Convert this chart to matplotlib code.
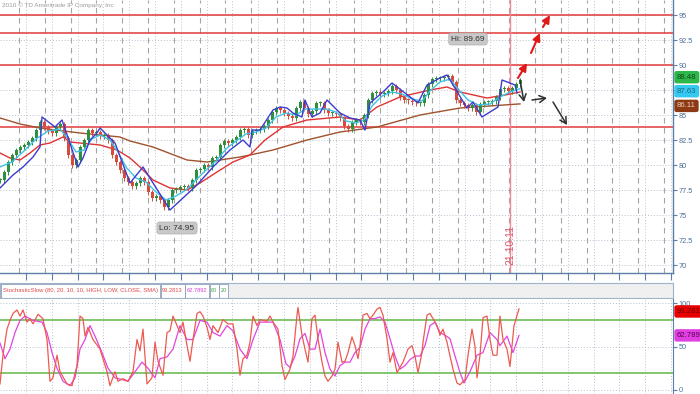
import numpy as np
import matplotlib
matplotlib.use("Agg")
import matplotlib.pyplot as plt

plt.rcParams["font.family"] = ["Liberation Sans", "DejaVu Sans"]

# ---------------- data (time axis in trading days) ----------------
closes = [78.5, 79.3, 80.3, 81.0, 81.5, 81.8, 82.0, 82.3, 82.7, 83.5,
          84.3, 83.8, 83.4, 83.2, 83.8, 84.1, 82.7, 81.0, 80.0, 80.5,
          81.8, 82.5, 83.5, 83.2, 83.3, 82.9, 83.0, 82.5, 81.0, 80.3,
          79.5, 78.7, 78.3, 77.9, 78.2, 78.7, 78.3, 77.3, 76.7, 76.9,
          76.5, 75.8, 76.5, 77.5, 77.6, 77.8, 77.9, 77.7, 78.5, 79.5,
          79.6, 80.0, 79.8, 80.7, 80.8, 82.0, 82.4, 82.2, 82.5, 82.8,
          83.5, 83.6, 83.0, 83.4, 83.5, 83.6, 83.9, 84.5, 85.3, 85.7,
          85.5, 85.2, 84.9, 84.7, 85.7, 86.3, 85.7, 85.1, 85.4, 86.2,
          86.2, 85.5, 85.2, 85.2, 85.1, 84.7, 83.9, 83.6, 84.3, 84.5,
          84.3, 85.0, 86.5, 87.2, 87.3, 87.1, 87.2, 87.4, 87.9, 87.5,
          86.8, 86.5, 86.4, 86.3, 86.2, 86.2, 87.0, 88.1, 88.6, 88.7,
          88.7, 88.8, 88.9, 88.3, 86.5, 86.2, 86.0, 85.7, 86.0, 85.3,
          86.1, 86.3, 86.3, 86.4, 86.8, 87.6, 87.7, 87.4, 87.7, 88.1,
          88.48]
close_step = 2  # closes were read every second trading day

cyan_t = [0, 6, 12, 18, 24, 30, 34, 38, 42, 46, 50, 55, 59, 63, 68, 73, 78, 83,
          88, 93, 98, 103, 108, 113, 118, 123, 128, 133, 138, 143, 148, 153, 158,
          163, 168, 173, 178, 182, 186, 191, 196, 201, 206, 211, 215, 220, 225,
          229, 234, 239, 245, 250, 255, 260]
cyan_v = [79.8, 80.3, 81.4, 82.6, 83.4, 83.6, 82.6, 81.3, 81.5, 82.6, 83.0, 82.5,
          81.3, 79.8, 78.7, 78.3, 77.3, 76.5, 76.9, 77.5, 78.5, 79.5, 80.4, 81.6,
          82.4, 83.1, 83.3, 83.7, 84.8, 85.2, 85.0, 85.6, 85.6, 85.6, 85.3, 84.4,
          84.2, 84.5, 85.9, 86.9, 87.3, 87.1, 86.6, 86.4, 87.4, 88.3, 88.6, 87.6,
          86.5, 86.0, 86.1, 86.8, 87.3, 87.63]

blue_t = [0, 6.5, 11.5, 16.5, 20, 21, 27.5, 31, 39, 41.5, 45, 48.5, 50, 57.5, 65,
          71.5, 85, 98.5, 106.5, 115, 121.5, 125, 126, 130, 136.5, 140, 143.5,
          146.5, 151, 152.5, 156, 160, 163.5, 170, 175, 180, 182.5, 185, 191.5,
          196, 209, 213.5, 220, 223.5, 233.5, 236.5, 241, 249, 251, 257.5, 258.5]
blue_v = [77.7, 79.0, 79.8, 80.8, 81.8, 84.8, 83.8, 84.5, 79.8, 80.7, 82.5, 83.2,
          83.7, 82.2, 78.2, 79.8, 75.5, 78.0, 79.8, 81.5, 82.5, 81.8, 83.5, 83.5,
          85.5, 85.8, 85.7, 85.2, 84.8, 86.5, 84.8, 85.2, 86.5, 85.2, 84.7, 84.5,
          83.5, 86.2, 87.3, 88.2, 86.2, 88.0, 88.7, 89.0, 85.7, 86.3, 84.8, 85.8,
          88.5, 88.0, 87.2]

sma_t = [0, 5, 10, 15, 20, 25, 31.5, 35, 40, 50, 58.5, 65, 70, 76.5, 85, 93.5,
         100, 108.5, 116.5, 125, 132.5, 141.5, 153.5, 170, 180, 188.5, 200, 215,
         223.5, 230, 243.5, 252.5, 260]
sma_v = [81.2, 80.7, 80.5, 81.2, 82.0, 82.2, 82.8, 82.3, 82.2, 82.0, 81.5, 80.7,
         79.8, 78.5, 77.7, 77.5, 78.2, 79.3, 80.3, 81.0, 82.5, 83.8, 84.5, 84.8,
         84.5, 85.8, 86.8, 87.5, 87.8, 87.3, 86.7, 87.0, 87.3]

long_t = [0, 10, 20, 40, 60, 65, 76.5, 93.5, 103.5, 110, 120, 125, 136.5, 153.5,
          170, 188.5, 210, 230, 260]
long_v = [84.7, 84.1, 83.7, 83.2, 82.8, 82.4, 81.8, 80.5, 80.3, 80.5, 80.8, 81.0,
          81.5, 82.5, 83.3, 83.8, 85.0, 85.7, 86.11]

level_lines = [95.0, 93.2, 90.0, 83.8]
price_ticks = [70, 72.5, 75, 77.5, 80, 82.5, 85, 87.5, 90, 92.5, 95]

stoch_k = [(0, 7), (1.5, 40), (3.5, 70), (5, 80), (6.5, 88), (8.5, 92), (10, 85),
           (11.5, 92), (13.5, 78), (15, 82), (16.5, 76), (19, 87), (21.5, 82),
           (23.5, 58), (25, 10), (26.5, 14), (28.5, 40), (30, 21), (33.5, 7),
           (36, 5), (38.5, 28), (40, 85), (41.5, 82), (42.5, 62), (44, 72),
           (46.5, 58), (50, 47), (51.5, 36), (53.5, 21), (55, 5), (57.5, 21),
           (59, 10), (61.5, 13), (64, 10), (66.5, 21), (68.5, 58), (70, 45),
           (71.5, 70), (73.5, 7), (76, 14), (77.5, 55), (79, 33), (81.5, 17),
           (83.5, 66), (85, 68), (86.5, 85), (88.5, 74), (90, 66), (91.5, 78),
           (93.5, 51), (95, 33), (96.5, 58), (98.5, 88), (100, 90), (101.5, 85),
           (103.5, 72), (105, 58), (106.5, 74), (109, 66), (111.5, 81), (114, 76),
           (116.5, 76), (118.5, 47), (120, 17), (121.5, 36), (123.5, 40),
           (125, 55), (126.5, 85), (128.5, 74), (130, 81), (133.5, 79), (135, 85),
           (136.5, 78), (139, 70), (141, 28), (142.5, 12), (145, 24), (146.5, 39),
           (148.5, 86), (149, 95), (151, 63), (152.5, 47), (154, 32), (156, 82),
           (157.5, 86), (159, 59), (161, 32), (162.5, 16), (164, 10), (166, 16),
           (167.5, 24), (169, 55), (171, 32), (172.5, 33), (174, 43), (176, 61),
           (177.5, 51), (179, 36), (180, 51), (181.5, 86), (183.5, 88), (185, 82),
           (186.5, 86), (188.5, 93), (190, 95), (191.5, 86), (193.5, 59),
           (195, 32), (196.5, 43), (198.5, 20), (200, 26), (201.5, 32), (204, 47),
           (206, 51), (207.5, 39), (209, 20), (211, 43), (211.5, 55), (213.5, 86),
           (215, 88), (216.5, 82), (218.5, 74), (220, 63), (221.5, 70),
           (223.5, 55), (225, 39), (226.5, 24), (228.5, 8), (230, 6), (232.5, 12),
           (234, 40), (236, 70), (237.5, 50), (238.5, 14), (240, 40), (241.5, 83),
           (243.5, 85), (245, 58), (246.5, 40), (248.5, 40), (250, 85),
           (251.5, 58), (253.5, 47), (255, 27), (257, 74), (259.5, 93.28)]

stoch_d = [(0, 54), (2.5, 36), (5, 47), (7.5, 66), (10, 80), (12.5, 85),
           (16.5, 80), (21, 78), (23.5, 66), (26, 43), (28.5, 25), (31.5, 10),
           (35, 5), (37.5, 14), (40, 47), (42.5, 58), (45, 74), (47.5, 62),
           (51, 43), (54, 25), (57.5, 14), (61, 12), (64, 10), (67.5, 21),
           (71, 32), (74, 25), (77.5, 14), (80, 36), (83.5, 38), (86.5, 47),
           (90, 74), (93.5, 58), (96.5, 58), (100, 80), (103.5, 78), (106.5, 66),
           (110, 62), (113.5, 74), (116.5, 68), (120, 47), (123.5, 36),
           (126.5, 58), (130, 78), (136.5, 78), (140, 58), (143, 30), (145, 26),
           (147.5, 39), (150, 59), (152.5, 65), (155, 47), (157.5, 47), (160, 70),
           (162.5, 43), (165, 24), (167.5, 16), (170, 28), (172.5, 32), (175, 32),
           (177.5, 43), (180, 49), (182.5, 70), (185, 82), (187.5, 82), (190, 84),
           (192.5, 78), (195, 59), (197.5, 39), (200, 24), (202.5, 28), (205, 35),
           (207.5, 39), (210, 39), (212.5, 51), (215, 74), (217.5, 78), (220, 66),
           (222.5, 63), (225, 59), (227.5, 39), (230, 20), (232, 8), (235, 21),
           (238.5, 40), (241.5, 43), (245, 66), (248.5, 58), (250, 51),
           (253.5, 62), (256.5, 43), (259.5, 62.79)]

stoch_levels = [80, 20]
stoch_ticks = [0, 50, 100]

red_arrows = [((259, 88.7), (263.5, 90.2)), ((265.5, 91.2), (270, 93.2)),
              ((271.5, 93.8), (275, 95.0))]
black_arrows = [((260, 88.5), (262, 86.3)), ((266, 86.5), (273.5, 86.7)),
                ((276.5, 86.3), (283.5, 84.0))]
event_t = 255
event_label = "21.10.11"
hi_t, hi_v = 224, 89.69
lo_t, lo_v = 82, 74.95

# ---------------- style ----------------
W, H = 700, 394
AXC = "#5b7fa6"
LBC = "#4a6d96"
C_UP, C_DN = "#2f8f3f", "#d94a3a"
C_CYAN, C_BLUE, C_SMA, C_LONG = "#3fc3e6", "#3b3bd0", "#e03333", "#a0522d"
C_LVL = "#e23a3a"
C_K, C_D = "#ec5a50", "#e244e0"
C_GRN = "#6cbf55"

fig = plt.figure(figsize=(W / 100, H / 100), dpi=100)
XMAX = 336.5
grid_a = np.arange(9.5, XMAX, 12.9)
grid_b = np.arange(13.0, XMAX, 12.9)


def fx(px):
    return px / W


def fy(py):
    return 1 - py / H


ax = fig.add_axes([0, fy(273), fx(673), 273 / H])
ax.set_xlim(0, XMAX)
ax.set_ylim(69.2, 96.5)

for g in price_ticks:
    ax.axhline(g, color="#b4c0ce", lw=0.7, ls=(0, (1, 2)), zorder=0)
for g in grid_a:
    ax.axvline(g, color="#a4a4a4", lw=0.8, ls=(0, (5, 4)), zorder=0)
for g in grid_b:
    ax.axvline(g, color="#bcc6d2", lw=0.7, ls=(0, (1, 2)), zorder=0)

for lv in level_lines:
    ax.axhline(lv, color=C_LVL, lw=1.1, zorder=1)

ax.axvline(event_t, color="#ee8a95", lw=1.0, zorder=1)
ax.text(event_t, 72.0, event_label, rotation=90, color="#e05a70", fontsize=7.5,
        ha="center", va="center", zorder=2)

ax.plot(long_t, long_v, color=C_LONG, lw=1.0, zorder=3)
ax.plot(sma_t, sma_v, color=C_SMA, lw=1.0, zorder=3)

c = np.array(closes)
t = np.arange(len(c)) * close_step
o = np.concatenate([[c[0]], c[:-1]])
up = c >= o
col = np.where(up, C_UP, C_DN)
body = np.where(np.abs(c - o) < 0.1, 0.1, c - o)
ax.bar(t, body, bottom=o, width=1.5, color=col, edgecolor="none", zorder=4)
ax.vlines(t, np.minimum(o, c) - 0.25, np.maximum(o, c) + 0.25, colors=col,
          lw=0.7, zorder=4)

ax.plot(cyan_t, cyan_v, color=C_CYAN, lw=1.0, zorder=5)
ax.plot(blue_t, blue_v, color=C_BLUE, lw=1.0, zorder=5)

for (a, b) in red_arrows:
    ax.annotate("", xy=b, xytext=a,
                arrowprops=dict(arrowstyle="-|>,head_length=0.45,head_width=0.22",
                                color="#e01818", lw=1.5, shrinkA=0, shrinkB=0),
                zorder=6)
for (a, b) in black_arrows:
    ax.annotate("", xy=b, xytext=a,
                arrowprops=dict(arrowstyle="->,head_length=0.45,head_width=0.25",
                                color="#303030", lw=1.1, shrinkA=0, shrinkB=0),
                zorder=6)

box = dict(boxstyle="round,pad=0.3", fc="#c8c8c8", ec="#b0b0b0", lw=0.5)
ax.text(hi_t + 10, 92.6, f"Hi: {hi_v:.2f}", fontsize=6, color="#333333",
        ha="center", va="center", bbox=box, zorder=7)
ax.text(lo_t + 6.5, 73.7, f"Lo: {lo_v:.2f}", fontsize=6, color="#333333",
        ha="center", va="center", bbox=box, zorder=7)

ax.text(0.8, 95.95, "2010 \u00a9 TD Ameritrade IP Company, Inc", fontsize=4.6,
        color="#9a9a9a", ha="left", va="center")

for s in ["left", "top"]:
    ax.spines[s].set_visible(False)
for s in ["right", "bottom"]:
    ax.spines[s].set_color(AXC)
    ax.spines[s].set_linewidth(1.0)
ax.yaxis.tick_right()
ax.set_yticks(price_ticks)
ax.set_yticklabels([f"{v:g}" for v in price_ticks])
ax.tick_params(axis="y", colors=AXC, labelsize=5.3, length=3, pad=1,
               labelcolor=LBC)
ax.set_xticks(grid_b)
ax.set_xticklabels([])
ax.tick_params(axis="x", colors=AXC, length=5, direction="out")


def tag(axis, y, txt, fc, tc):
    axis.text(1.006, y, txt, transform=axis.get_yaxis_transform(), fontsize=5.6,
              color=tc, ha="left", va="center", zorder=10, clip_on=False,
              bbox=dict(boxstyle="round,pad=0.35,rounding_size=0.3", fc=fc,
                        ec="none"))


tag(ax, cyan_v[-1] - 0.25, f"{cyan_v[-1]:.2f}", "#35c8f0", "#1a6a80")
tag(ax, closes[-1] + 0.3, f"{closes[-1]:.2f}", "#2fb84a", "#0e4a18")
tag(ax, long_v[-1] - 0.2, f"{long_v[-1]:.2f}", "#8b3a14", "#f0d0c0")

# ---------------- header bar ----------------
hb = fig.add_axes([0, fy(298), fx(673), 15 / H])
hb.set_xlim(0, 673)
hb.set_ylim(0, 15)
hb.set_facecolor("#f0f0f0")
for s in hb.spines.values():
    s.set_color("#9fb2c8")
    s.set_linewidth(0.8)
hb.set_xticks([])
hb.set_yticks([])
hdr = [("StochasticSlow (80, 20, 10, 10, HIGH, LOW, CLOSE, SMA)", "#e04848", 159),
       ("93.2813", "#e04848", 24), ("62.7892", "#d040d0", 24),
       ("80", "#3a9a3a", 9), ("20", "#3a9a3a", 9)]
renderer = fig.canvas.get_renderer()
x0 = 1
for txt, tc, w in hdr:
    hb.add_patch(plt.Rectangle((x0, 0.5), w, 14, fc="white", ec="#8ca0b8", lw=0.6))
    tt = hb.text(x0 + w / 2, 7.5, txt, color=tc, fontsize=6, ha="center",
                 va="center")
    tw = tt.get_window_extent(renderer).width
    tt.set_fontsize(min(6.0, 6.0 * (w - 3) / tw))
    x0 += w + 0.5

# ---------------- stochastic panel ----------------
sx = fig.add_axes([0, 0, fx(673), 95 / H])
sx.set_xlim(0, XMAX)
sx.set_ylim(-4.6, 104.6)
for g in stoch_ticks:
    sx.axhline(g, color="#b4c0ce", lw=0.7, ls=(0, (1, 2)), zorder=0)
for g in grid_b:
    sx.axvline(g, color="#b4c0ce", lw=0.7, ls=(0, (1, 2)), zorder=0)
for lv in stoch_levels:
    sx.axhline(lv, color=C_GRN, lw=1.2, zorder=1)
kt, kv = zip(*stoch_k)
dt, dv = zip(*stoch_d)
sx.plot(dt, dv, color=C_D, lw=0.9, zorder=3)
sx.plot(kt, kv, color=C_K, lw=0.9, zorder=4)
for s in ["left", "top", "bottom"]:
    sx.spines[s].set_visible(False)
sx.spines["right"].set_color(AXC)
sx.yaxis.tick_right()
sx.set_yticks(stoch_ticks)
sx.set_yticklabels([str(v) for v in stoch_ticks])
sx.tick_params(axis="y", colors=AXC, labelsize=5.3, length=3, pad=1,
               labelcolor=LBC)
sx.set_xticks([])
tag(sx, kv[-1] - 3, "93.281", "#e80000", "#700000")
tag(sx, dv[-1], "62.789", "#e040e0", "#5a005a")

fig.savefig("out.png", dpi=100)
